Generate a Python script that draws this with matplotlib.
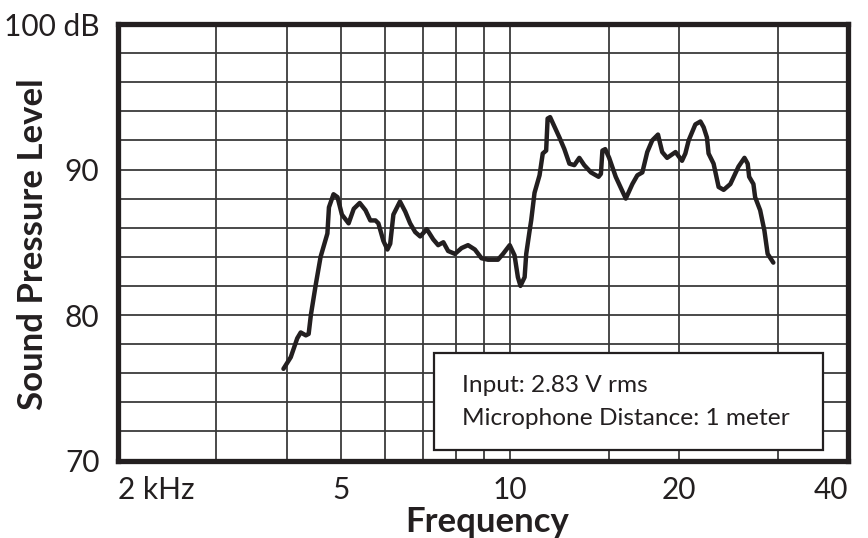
import numpy as np
import matplotlib
matplotlib.use('Agg')
import matplotlib.pyplot as plt
from matplotlib.patches import Rectangle

# frequency response (kHz, dB)
freq_khz = [3.95, 4.07, 4.18, 4.24, 4.33, 4.38, 4.42, 4.51, 4.60, 4.73,
            4.76, 4.85, 4.93, 5.02, 5.16, 5.27, 5.40, 5.53, 5.64, 5.76,
            5.83, 5.95, 6.05, 6.12, 6.20, 6.37, 6.51, 6.64, 6.78, 6.92,
            7.11, 7.30, 7.45, 7.61, 7.76, 7.98, 8.20, 8.42, 8.66, 8.90,
            9.14, 9.52, 9.72, 9.99, 10.19, 10.33, 10.44, 10.62, 10.69, 10.84,
            10.91, 11.06, 11.29, 11.44, 11.60, 11.67, 11.79, 12.25, 12.50, 12.76,
            13.02, 13.29, 13.56, 13.94, 14.38, 14.52, 14.61, 14.78, 15.02, 15.43,
            16.08, 16.52, 16.86, 17.21, 17.56, 17.92, 18.35, 18.67, 19.05, 19.72,
            20.25, 20.53, 20.81, 21.39, 21.84, 22.13, 22.43, 22.58, 23.05, 23.53,
            24.02, 24.69, 25.53, 26.16, 26.51, 26.67, 27.14, 27.33, 27.90, 28.39,
            28.77, 29.45]
spl_db = [76.3, 77.1, 78.4, 78.8, 78.6, 78.7, 80.0, 82.1, 84.0, 85.6,
          87.4, 88.3, 88.1, 86.9, 86.3, 87.3, 87.7, 87.2, 86.5, 86.5,
          86.3, 85.1, 84.5, 84.9, 86.9, 87.8, 87.1, 86.3, 85.7, 85.4,
          85.9, 85.2, 84.8, 85.0, 84.4, 84.2, 84.6, 84.8, 84.5, 83.9,
          83.8, 83.8, 84.2, 84.8, 84.1, 82.6, 82.0, 82.6, 84.2, 85.8,
          86.5, 88.4, 89.6, 91.1, 91.3, 93.5, 93.6, 92.2, 91.4, 90.4,
          90.3, 90.8, 90.3, 89.8, 89.5, 89.7, 91.3, 91.4, 90.8, 89.5,
          88.0, 89.0, 89.6, 89.8, 91.2, 92.0, 92.4, 91.2, 90.8, 91.2,
          90.6, 91.1, 92.0, 93.1, 93.3, 92.9, 92.2, 91.1, 90.4, 88.8,
          88.6, 89.0, 90.2, 90.8, 90.4, 89.5, 89.0, 88.1, 87.2, 85.8,
          84.2, 83.6]

x_ticks = [2, 5, 10, 20, 40]
x_ticklabels = ['2 kHz', '5', '10', '20', '40']
x_grid = [3, 4, 6, 7, 8, 9, 15, 30]
y_ticks = [70, 80, 90, 100]
y_ticklabels = ['70', '80', '90', '100 dB']
y_grid = np.arange(70, 101, 2)
note_lines = ['Input: 2.83 V rms', 'Microphone Distance: 1 meter']

ink = '#231f20'
plt.rcParams['font.family'] = ['Lato', 'DejaVu Sans']

fig = plt.figure(figsize=(8.68, 5.38), dpi=100)
ax = fig.add_axes([117.5/868, 1-460.5/538, (848-117.5)/868, (460.5-24)/538])

ax.set_xscale('log')
ax.set_xlim(2, 40)
ax.set_ylim(70, 100)

# grid
for g in x_grid + x_ticks:
    ax.axvline(g, color='#3a3a3a', lw=1.3, zorder=1)
for g in y_grid:
    ax.axhline(g, color='#3a3a3a', lw=1.3, zorder=1)

ax.plot(freq_khz, spl_db, color=ink, lw=3.2, solid_capstyle='round',
        solid_joinstyle='round', zorder=4)

ax.set_xticks(x_ticks)
ax.set_xticklabels(x_ticklabels)
ax.xaxis.set_minor_locator(matplotlib.ticker.NullLocator())
ax.set_yticks(y_ticks)
ax.set_yticklabels(y_ticklabels)
ax.tick_params(length=0, labelsize=21.5, colors=ink)
ax.tick_params(axis='x', pad=11)
ax.tick_params(axis='y', pad=13)
xl = ax.get_xticklabels()
xl[0].set_ha('left')
xl[-1].set_ha('right')

for s in ax.spines.values():
    s.set_linewidth(3.8)
    s.set_color(ink)
    s.set_zorder(6)

# note box
box = Rectangle((0.433, 0.025), 0.533, 0.222, transform=ax.transAxes,
                facecolor='white', edgecolor=ink, lw=1.6, zorder=5)
ax.add_patch(box)
fig.text(462/868, 1-392/538, note_lines[0], fontsize=17.6, color=ink, va='baseline')
fig.text(462/868, 1-425/538, note_lines[1], fontsize=17.6, color=ink, va='baseline')

fig.text(487/868, 1-532/538, 'Frequency', fontsize=25, fontweight='bold',
         color=ink, ha='center', va='baseline')
fig.text(33/868, 1-244/538, 'Sound Pressure Level', fontsize=25, fontweight='bold',
         color=ink, ha='center', va='center', rotation=90)
# title sits mostly above the canvas, only descenders show
fig.text(483/868, 1+8/538, 'Frequency Response', fontsize=25, fontweight='bold',
         color=ink, ha='center', va='baseline')

fig.savefig('out.png', dpi=100)
